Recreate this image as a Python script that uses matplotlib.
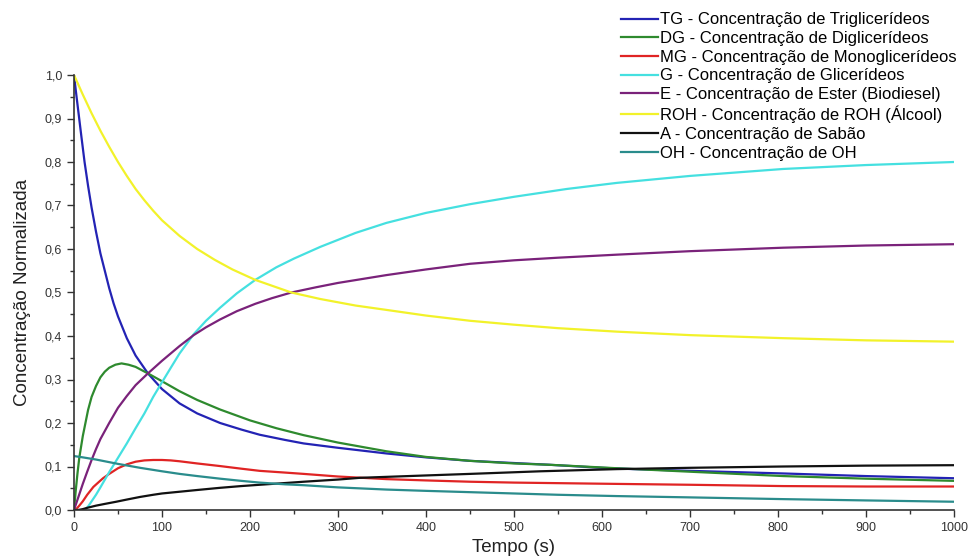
import numpy as np
import matplotlib
matplotlib.use("Agg")
import matplotlib.pyplot as plt
from matplotlib.ticker import MultipleLocator, FuncFormatter

plt.rcParams['font.family'] = ['Liberation Sans', 'DejaVu Sans']

#   values (t in s, normalised concentration)
t_tg = [0, 2, 5, 8, 12, 16, 20, 25, 30, 35, 40, 45, 50, 60, 70, 84, 100, 120, 140, 166, 190, 211, 240, 261,
        300, 355, 400, 450, 500, 540, 600, 635, 700, 806, 900, 1000]
tg = [1.0, 0.965, 0.915, 0.865, 0.80, 0.745, 0.695, 0.64, 0.59, 0.55, 0.51, 0.475, 0.445, 0.395, 0.355, 0.314,
      0.278, 0.245, 0.222, 0.2, 0.185, 0.173, 0.161, 0.153, 0.143, 0.130, 0.121, 0.113, 0.108, 0.104, 0.097,
      0.094, 0.09, 0.084, 0.078, 0.073]

t_dg = [0, 2, 4, 6, 8, 10, 13, 16, 20, 25, 30, 35, 40, 47, 54, 62, 70, 84, 100, 120, 140, 166, 200, 230, 261,
        300, 355, 400, 450, 500, 540, 617, 700, 806, 900, 1000]
dg = [0.0, 0.045, 0.085, 0.12, 0.145, 0.17, 0.2, 0.23, 0.26, 0.285, 0.305, 0.318, 0.327, 0.334, 0.337, 0.334,
      0.329, 0.314, 0.296, 0.273, 0.253, 0.231, 0.206, 0.188, 0.172, 0.155, 0.135, 0.122, 0.113, 0.107, 0.104,
      0.096, 0.088, 0.078, 0.072, 0.067]

t_mg = [0, 3, 6, 10, 15, 22, 28, 33, 40, 50, 60, 70, 80, 90, 100, 110, 120, 140, 166, 190, 211, 240, 261, 300,
        355, 400, 450, 500, 617, 700, 806, 900, 1000]
mg = [0.0, 0.003, 0.01, 0.02, 0.035, 0.053, 0.064, 0.073, 0.083, 0.096, 0.105, 0.111, 0.114, 0.115, 0.115,
      0.114, 0.112, 0.107, 0.101, 0.095, 0.09, 0.086, 0.083, 0.077, 0.071, 0.068, 0.065, 0.063, 0.06, 0.058,
      0.055, 0.054, 0.054]

t_g = [0, 12, 16, 20, 25, 30, 40, 50, 60, 70, 80, 90, 98, 110, 120, 136, 150, 166, 185, 206, 230, 250, 280, 320,
       355, 400, 450, 500, 560, 617, 700, 806, 900, 1000]
g = [0.0, 0.0, 0.008, 0.02, 0.035, 0.052, 0.087, 0.12, 0.153, 0.188, 0.222, 0.26, 0.287, 0.327, 0.36, 0.404,
     0.435, 0.465, 0.498, 0.529, 0.558, 0.578, 0.605, 0.637, 0.66, 0.683, 0.703, 0.72, 0.738, 0.752, 0.768,
     0.784, 0.793, 0.80]

t_e = [0, 5, 10, 15, 20, 25, 30, 40, 50, 60, 70, 84, 100, 120, 136, 150, 166, 185, 206, 225, 247, 275, 300, 355,
       400, 450, 500, 550, 617, 700, 806, 900, 1000]
e = [0.0, 0.03, 0.06, 0.088, 0.115, 0.14, 0.163, 0.2, 0.235, 0.262, 0.287, 0.314, 0.343, 0.377, 0.402, 0.42,
     0.438, 0.457, 0.474, 0.487, 0.50, 0.512, 0.522, 0.54, 0.553, 0.566, 0.574, 0.58, 0.587, 0.595, 0.603,
     0.608, 0.611]

t_roh = [0, 10, 20, 30, 40, 50, 60, 70, 80, 90, 100, 120, 140, 160, 180, 206, 230, 247, 280, 320, 355, 400, 450,
         500, 550, 617, 700, 806, 900, 1000]
roh = [1.0, 0.955, 0.912, 0.872, 0.835, 0.80, 0.768, 0.738, 0.712, 0.688, 0.666, 0.63, 0.60, 0.575, 0.553,
       0.529, 0.512, 0.50, 0.485, 0.47, 0.46, 0.447, 0.435, 0.426, 0.418, 0.41, 0.402, 0.395, 0.39, 0.387]

t_a = [0, 5, 10, 15, 25, 35, 48, 60, 75, 90, 100, 120, 140, 166, 190, 211, 240, 261, 300, 325, 380, 450, 530,
       617, 700, 806, 900, 1000]
a = [0.0, 0.0, 0.002, 0.005, 0.01, 0.014, 0.019, 0.024, 0.03, 0.035, 0.038, 0.042, 0.046, 0.051, 0.055, 0.058,
     0.062, 0.065, 0.07, 0.074, 0.078, 0.083, 0.089, 0.094, 0.097, 0.10, 0.102, 0.103]

t_oh = [0, 10, 25, 50, 75, 100, 120, 140, 166, 190, 211, 240, 261, 300, 355, 400, 450, 500, 550, 617, 700, 806,
        900, 1000]
oh = [0.124, 0.121, 0.116, 0.106, 0.097, 0.089, 0.083, 0.078, 0.072, 0.067, 0.063, 0.059, 0.057, 0.052, 0.047,
      0.044, 0.041, 0.038, 0.035, 0.032, 0.029, 0.025, 0.022, 0.019]

labels = ["TG - Concentração de Triglicerídeos",
          "DG - Concentração de Diglicerídeos",
          "MG - Concentração de Monoglicerídeos",
          "G - Concentração de Glicerídeos",
          "E - Concentração de Ester (Biodiesel)",
          "ROH - Concentração de ROH (Álcool)",
          "A - Concentração de Sabão",
          "OH - Concentração de OH"]

series = [(t_tg, tg), (t_dg, dg), (t_mg, mg), (t_g, g), (t_e, e), (t_roh, roh), (t_a, a), (t_oh, oh)]
colors = ["#2323b4", "#2e8a2e", "#e02424", "#45e0e0", "#7a227a", "#f2f22a", "#111111", "#2a8c8c"]

fig = plt.figure(figsize=(9.68, 5.58), dpi=100)
ax = fig.add_axes([74/968, 1-510/558, 880/968, 435/558])

lines = []
for (tt, yy), c, lab in zip(series, colors, labels):
    ln, = ax.plot(tt, yy, color=c, lw=1.6, label=lab, solid_joinstyle='round')
    lines.append(ln)

ax.set_xlim(0, 1000)
ax.set_ylim(0, 1.0)
ax.spines['top'].set_visible(False)
ax.spines['right'].set_visible(False)
for s in ('left', 'bottom'):
    ax.spines[s].set_linewidth(1.2)
    ax.spines[s].set_color('#333333')

ax.xaxis.set_major_locator(MultipleLocator(100))
ax.xaxis.set_minor_locator(MultipleLocator(50))
ax.yaxis.set_major_locator(MultipleLocator(0.1))
ax.yaxis.set_minor_locator(MultipleLocator(0.05))
ax.yaxis.set_major_formatter(FuncFormatter(lambda v, p: f"{v:.1f}".replace('.', ',')))
ax.tick_params(which='major', direction='out', length=5, width=1, labelsize=9, colors='#333333')
ax.tick_params(which='minor', direction='out', length=3, width=1, colors='#333333')

ax.set_xlabel("Tempo (s)", fontsize=13.5, color='#222222', labelpad=4)
ax.set_ylabel("Concentração Normalizada", fontsize=13.5, color='#222222')
ax.yaxis.set_label_coords(-0.049, 0.5)

fig.legend(handles=lines, loc='upper left', bbox_to_anchor=(613/968, 1-4/558),
           frameon=False, fontsize=12, handlelength=2.2, handletextpad=0.15,
           labelspacing=0.22, borderpad=0)

fig.savefig("out.png", dpi=100)
